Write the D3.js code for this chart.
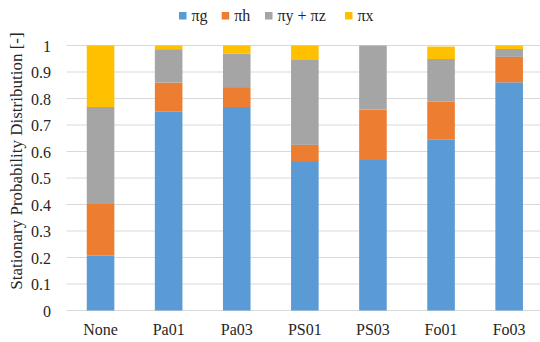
<!DOCTYPE html>
<html><head><meta charset="utf-8">
<script src="https://cdn.jsdelivr.net/npm/d3@7"></script>
<style>body{margin:0;background:#fff}svg{display:block}
svg text{font-family:"Liberation Serif","Times New Roman","DejaVu Serif",serif !important;}</style>
</head><body>
<svg id="c" width="540" height="342"></svg>
<script>
const categories = ["None","Pa01","Pa03","PS01","PS03","Fo01","Fo03"];
const seriesNames = ["πg","πh","πy + πz","πx"];
const piG  = [0.208,0.750,0.768,0.564,0.568,0.646,0.861];
const piH  = [0.197,0.110,0.075,0.061,0.190,0.143,0.096];
const piYZ = [0.363,0.126,0.126,0.323,0.242,0.160,0.030];
const piX  = [0.232,0.014,0.031,0.052,0.000,0.047,0.013];
const yTicks = [0,0.1,0.2,0.3,0.4,0.5,0.6,0.7,0.8,0.9,1];
const yTickLabels = ["0","0.1","0.2","0.3","0.4","0.5","0.6","0.7","0.8","0.9","1"];
const colors = ["#5B9BD5","#ED7D31","#A5A5A5","#FFC000"];

const svg = d3.select("#c");
const pLeft = 66.5, pRight = 543.2, pTop = 45.5, pBottom = 310.5;

const x = d3.scaleBand().domain(categories).range([pLeft, pRight]).padding(0);
const y = d3.scaleLinear().domain([0,1]).range([pBottom, pTop]);
const barW = x.bandwidth() * 0.405;

// gridlines
svg.append("g").selectAll("line").data(yTicks).join("line")
  .attr("x1", pLeft).attr("x2", 540)
  .attr("y1", d => y(d)).attr("y2", d => y(d))
  .attr("stroke", "#d9d9d9").attr("stroke-width", 1);

// stacked data
const rows = categories.map((c,i) => ({cat:c, s0:piG[i], s1:piH[i], s2:piYZ[i], s3:piX[i]}));
const stack = d3.stack().keys(["s0","s1","s2","s3"])(rows);

svg.append("g").selectAll("g").data(stack).join("g")
  .attr("fill", (d,i) => colors[i])
  .selectAll("rect").data(d => d).join("rect")
  .attr("x", d => x(d.data.cat) + x.bandwidth()/2 - barW/2)
  .attr("width", barW)
  .attr("y", d => y(d[1]))
  .attr("height", d => Math.max(0, y(d[0]) - y(d[1])));

// y tick labels
const yAxis = d3.axisLeft(y).tickValues(yTicks).tickFormat((d,i) => yTickLabels[i]).tickSize(0).tickPadding(0);
const ya = svg.append("g").attr("transform", "translate(51,0)").call(yAxis);
ya.select(".domain").remove();
ya.selectAll("text").attr("font-size", 16).attr("fill", "#262626").attr("dy", "0.35em");

// x labels
const xAxis = d3.axisBottom(x).tickSize(0).tickPadding(0);
const xa = svg.append("g").attr("transform", "translate(0,324)").call(xAxis);
xa.select(".domain").remove();
xa.selectAll("text").attr("font-size", 16).attr("fill", "#262626").attr("dy", "0.71em");

// y title
svg.append("text")
  .attr("transform", "translate(22,161) rotate(-90)")
  .attr("text-anchor", "middle")
  .attr("font-size", 17).attr("fill", "#262626")
  .text("Stationary Probability Distribution [-]");

// legend
const legX = [179, 221.7, 265, 345];
const leg = svg.append("g").selectAll("g").data(seriesNames).join("g")
  .attr("transform", (d,i) => `translate(${legX[i]},12)`);
leg.append("rect").attr("width", 7.5).attr("height", 7.5).attr("fill", (d,i) => colors[i]);
leg.append("text").attr("x", 12.5).attr("y", 8.5)
  .attr("font-size", 16).attr("fill", "#262626")
  .text(d => d);
</script>
</body></html>
